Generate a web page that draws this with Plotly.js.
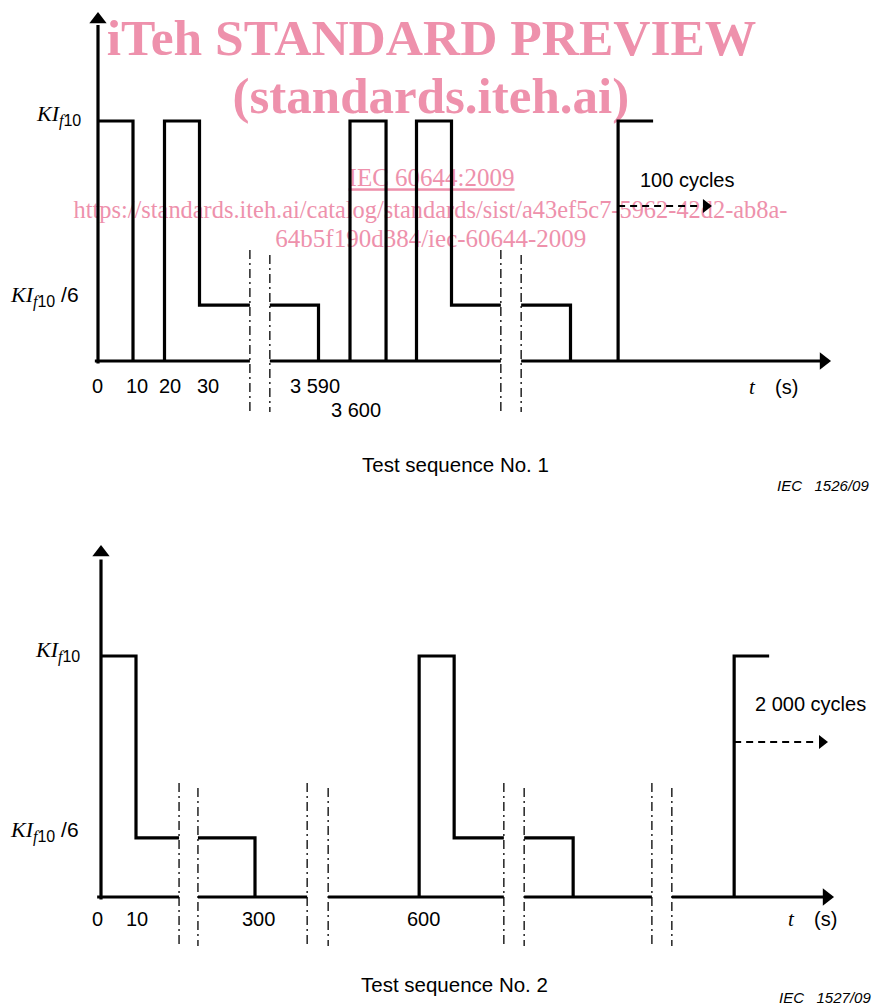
<!DOCTYPE html>
<html>
<head>
<meta charset="utf-8">
<script src="https://cdn.plot.ly/plotly-3.0.1.min.js"></script>
<style>html,body{margin:0;padding:0;background:#fff;}#chart{width:873px;height:1005px;}</style>
</head>
<body>
<div id="chart"></div>
<script>
// ---------- DATA (schematic time positions on a broken axis; current in units of KI_f10) ----------
// Test sequence No. 1
const seq1_t = [0, 10, 10, null, 19, 19, 29, 29, 43.4, null, 49.1, 63, 63, null, 72, 72, 82.3, 82.3, null, 91, 91, 101, 101, 115.1, null, 120.9, 135, 135, null, 148.6, 148.6, 158.6];
const seq1_I = [1, 1, 0, null, 0, 1, 1, 0.233, 0.233, null, 0.233, 0.233, 0, null, 0, 1, 1, 0, null, 0, 1, 1, 0.233, 0.233, null, 0.233, 0.233, 0, null, 0, 1, 1];
const axis1_t = [-0.9, 43.4, null, 49.1, 115.1, null, 120.9, 207];
const axis1_I = [0, 0, null, 0, 0, null, 0, 0];
const breaks1_t = [43.4, 43.4, null, 49.1, 49.1, null, 115.1, 115.1, null, 120.9, 120.9];
const breaks1_I = [0.4625, -0.2125, null, 0.442, -0.2125, null, 0.4625, -0.2125, null, 0.442, -0.2125];
const cycles1_t = [148.6, 171.5];
const cycles1_I = [0.646, 0.646];
const cycles1Label = '100 cycles';
const ticks1Text = ['0', '10', '20', '30', '3 590', '3 600'];
const ticks1Pos = [-0.1, 11.1, 20.7, 31.3, 62, 73.7];
const ticks1Row = [-0.104, -0.104, -0.104, -0.104, -0.104, -0.204];
const levels1 = [1, 0.233];

// Test sequence No. 2
const seq2_t = [0, 10, 10, 22.3, null, 27.7, 44, 44, null, 90.9, 90.9, 100.9, 100.9, 115.1, null, 120.9, 134.9, 134.9, null, 180.9, 180.9, 190.9];
const seq2_I = [1, 1, 0.245, 0.245, null, 0.245, 0.245, 0, null, 0, 1, 1, 0.245, 0.245, null, 0.245, 0.245, 0, null, 0, 1, 1];
const axis2_t = [-1.1, 22.3, null, 27.7, 58.9, null, 64.9, 115.1, null, 120.9, 157.4, null, 163.1, 207];
const axis2_I = [0, 0, null, 0, 0, null, 0, 0, null, 0, 0, null, 0, 0];
const breaks2_t = [22.3, 22.3, null, 27.7, 27.7, null, 58.9, 58.9, null, 64.9, 64.9, null, 115.1, 115.1, null, 120.9, 120.9, null, 157.4, 157.4, null, 163.1, 163.1];
const breaks2_I = [0.473, -0.203, null, 0.452, -0.203, null, 0.473, -0.203, null, 0.452, -0.203, null, 0.473, -0.203, null, 0.452, -0.203, null, 0.473, -0.203, null, 0.452, -0.203];
const cycles2_t = [180.9, 203.5];
const cycles2_I = [0.643, 0.643];
const cycles2Label = '2 000 cycles';
const ticks2Text = ['0', '10', '300', '600'];
const ticks2Pos = [-0.95, 10.4, 44.9, 92];
const ticks2Row = [-0.091, -0.091, -0.091, -0.091];
const levels2 = [1, 0.245];

const SUBF = '<span style="font-size:16px">';
const SANSSPAN = '<span style="font-family:\'Liberation Sans\',Arial;font-style:normal;font-size:16px">';
const levelLabels = ['<i>KI</i><sub>' + SUBF + '<i>f</i></span>' + SANSSPAN + '10</span></sub>',
                     '<i>KI</i><sub>' + SUBF + '<i>f</i></span>' + SANSSPAN + '10</span></sub><span style="font-family:\'Liberation Sans\',Arial;font-style:normal;font-size:21px"> /6</span>'];
const captions = ['Test sequence No. 1', 'Test sequence No. 2'];
const figIds = ['IEC\u00a0\u00a0\u00a01526/09', 'IEC\u00a0\u00a0\u00a01527/09'];

// watermark
const wmText = ['<b>iTeh STANDARD PREVIEW</b>', '<b>(standards.iteh.ai)</b>', '<u>IEC 60644:2009</u>',
                'https://standards.iteh.ai/catalog/standards/sist/a43ef5c7-5962-42d2-ab8a-', '64b5f190d384/iec-60644-2009'];
const wmPos = [95.3, 95.1, 95.3, 95.0, 95.1];
const wmRow = [1.33, 1.0875, 0.754, 0.621, 0.50];
const wmSize = [51.5, 51, 25, 24.4, 25];

// ---------- STYLE ----------
const BLACK = '#000000';
const PINK = '#EE91AC';
const SANS = "'Liberation Sans', Arial, sans-serif";
const SERIF = "'Liberation Serif', 'Times New Roman', serif";

function lineTrace(x, y, xa, ya, width, dash) {
  return {x: x, y: y, xaxis: xa, yaxis: ya, type: 'scatter', mode: 'lines',
          line: {color: BLACK, width: width, dash: dash || 'solid', shape: 'linear'},
          connectgaps: false, hoverinfo: 'skip', showlegend: false, cliponaxis: false};
}
function headTrace(x, y, xa, ya, symbol, size) {
  return {x: x, y: y, xaxis: xa, yaxis: ya, type: 'scatter', mode: 'markers',
          marker: {symbol: symbol, size: size, color: BLACK, line: {width: 0}},
          hoverinfo: 'skip', showlegend: false, cliponaxis: false};
}

const traces = [];
// watermark underneath
traces.push({x: wmPos, y: wmRow, xaxis: 'x', yaxis: 'y', type: 'scatter', mode: 'text',
             text: wmText, textposition: 'middle center',
             textfont: {family: SERIF, size: wmSize, color: PINK},
             hoverinfo: 'skip', showlegend: false, cliponaxis: false});

// sequence 1
traces.push(lineTrace(axis1_t, axis1_I, 'x', 'y', 3.2));
traces.push(lineTrace([0, 0], [-0.01, 1.40], 'x', 'y', 3.2));
traces.push(headTrace([0], [1.423], 'x', 'y', 'triangle-up', 15));
traces.push(headTrace([207.3], [0], 'x', 'y', 'triangle-right', 15));
traces.push(lineTrace(seq1_t, seq1_I, 'x', 'y', 3.2));
traces.push(lineTrace(breaks1_t, breaks1_I, 'x', 'y', 1.3, '9px,4px,2px,4px'));
traces.push(lineTrace(cycles1_t, cycles1_I, 'x', 'y', 2, '7px,5px'));
traces.push(headTrace([173.7], [0.646], 'x', 'y', 'triangle-right', 12));

// sequence 2
traces.push(lineTrace(axis2_t, axis2_I, 'x2', 'y2', 3.2));
traces.push(lineTrace([0, 0], [-0.01, 1.40], 'x2', 'y2', 3.2));
traces.push(headTrace([0], [1.4295], 'x2', 'y2', 'triangle-up', 15));
traces.push(headTrace([207.3], [0], 'x2', 'y2', 'triangle-right', 15));
traces.push(lineTrace(seq2_t, seq2_I, 'x2', 'y2', 3.2));
traces.push(lineTrace(breaks2_t, breaks2_I, 'x2', 'y2', 1.3, '9px,4px,2px,4px'));
traces.push(lineTrace(cycles2_t, cycles2_I, 'x2', 'y2', 2, '7px,5px'));
traces.push(headTrace([206], [0.643], 'x2', 'y2', 'triangle-right', 12));

const ann = [];
function txt(x, y, xr, yr, text, size, family, xanchor, extra) {
  const a = {x: x, y: y, xref: xr, yref: yr, text: text, showarrow: false,
             font: {family: family, size: size, color: BLACK},
             xanchor: xanchor || 'center', yanchor: 'middle', borderpad: 0};
  return Object.assign(a, extra || {});
}
ticks1Text.forEach((t, i) => ann.push(txt(ticks1Pos[i], ticks1Row[i], 'x', 'y', t, 20, SANS)));
ticks2Text.forEach((t, i) => ann.push(txt(ticks2Pos[i], ticks2Row[i], 'x2', 'y2', t, 20, SANS)));
// y level labels
ann.push(txt(-4.6, levels1[0] + 0.025, 'x', 'y', levelLabels[0], 22, SERIF, 'right'));
ann.push(txt(-5.1, levels1[1] + 0.034, 'x', 'y', levelLabels[1], 22, SERIF, 'right'));
ann.push(txt(-5.7, levels2[0] + 0.02, 'x2', 'y2', levelLabels[0], 22, SERIF, 'right'));
ann.push(txt(-6.0, levels2[1] + 0.025, 'x2', 'y2', levelLabels[1], 22, SERIF, 'right'));
// time axis labels
ann.push(txt(187, -0.107, 'x', 'y', '<i>t</i>', 21, SERIF));
ann.push(txt(196.7, -0.107, 'x', 'y', '(s)', 20, SANS));
ann.push(txt(197.2, -0.093, 'x2', 'y2', '<i>t</i>', 21, SERIF));
ann.push(txt(206.9, -0.093, 'x2', 'y2', '(s)', 20, SANS));
// cycle labels
ann.push(txt(168.3, 0.754, 'x', 'y', cycles1Label, 20, SANS));
ann.push(txt(202.6, 0.801, 'x2', 'y2', cycles2Label, 20, SANS));
// captions
ann.push(txt(102, -0.433, 'x', 'y', captions[0], 20.5, SANS));
ann.push(txt(101.1, -0.365, 'x2', 'y2', captions[1], 20.5, SANS));
ann.push(txt(220.6, -0.517, 'x', 'y', '<i>' + figIds[0] + '</i>', 15, SANS, 'right'));
ann.push(txt(220.3, -0.419, 'x2', 'y2', '<i>' + figIds[1] + '</i>', 15, SANS, 'right'));

const hidden = {visible: false, showgrid: false, zeroline: false, fixedrange: true};
const layout = {
  width: 873, height: 1005,
  margin: {l: 0, r: 0, t: 0, b: 0, pad: 0},
  paper_bgcolor: '#ffffff', plot_bgcolor: 'rgba(0,0,0,0)',
  showlegend: false, hovermode: false,
  xaxis: Object.assign({domain: [0, 1], range: [-28, 221.43], anchor: 'y'}, hidden),
  yaxis: Object.assign({domain: [0, 1], range: [-2.6833, 1.5042], anchor: 'x'}, hidden),
  xaxis2: Object.assign({domain: [0, 1], range: [-28.857, 220.571], anchor: 'y2'}, hidden),
  yaxis2: Object.assign({domain: [0, 1], range: [-0.4481, 3.7220], anchor: 'x2'}, hidden),
  annotations: ann
};
Plotly.newPlot('chart', traces, layout, {staticPlot: true, displayModeBar: false});
</script>
</body>
</html>
